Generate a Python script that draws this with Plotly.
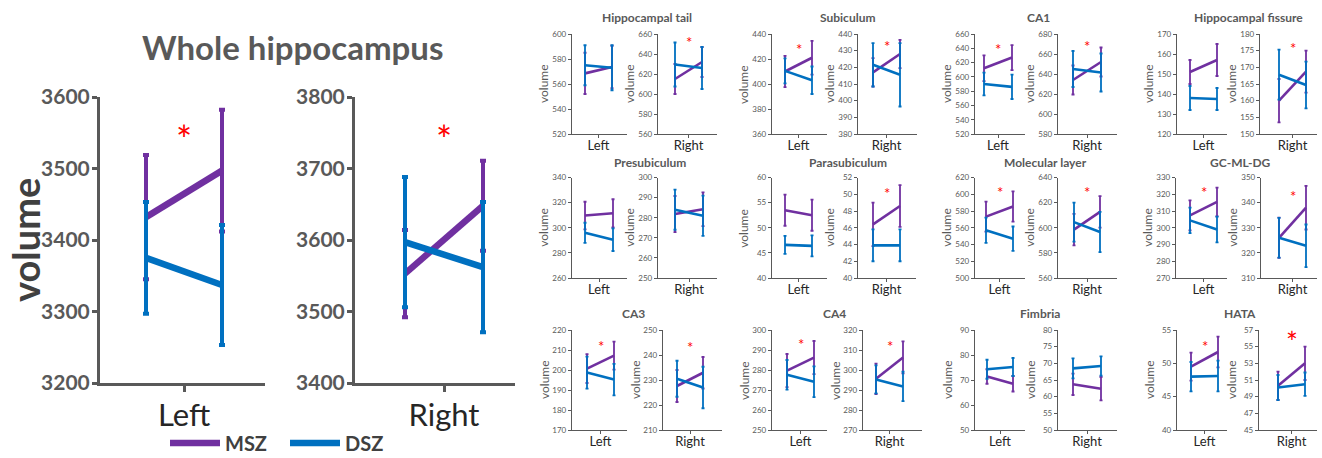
import plotly.graph_objects as go

W, H = 1322, 458
PURPLE = "#7030A0"
BLUE = "#0070C0"
GREY = "#595959"
DARK = "#262626"
FONT = "Lato"

sides = ["Left", "Right"]
timepoints = [1, 2]

# ---- Whole hippocampus (big panels) ----
whole_msz = [[3432, 3497], [3553, 3648]]
whole_msz_sd = [[87, 85], [61, 63]]
whole_dsz = [[3375, 3337], [3597, 3562]]
whole_dsz_sd = [[78, 84], [91, 91]]
whole_yrange = [[3200, 3600], [3400, 3800]]
whole_star_y = [3554, 3754]

# ---- Subfields ----
regions = ["Hippocampal tail", "Subiculum", "CA1", "Hippocampal fissure",
           "Presubiculum", "Parasubiculum", "Molecular layer", "GC-ML-DG",
           "CA3", "CA4", "Fimbria", "HATA"]

msz_left = [[568.5, 573.6], [410, 421], [612, 627], [151, 157],
            [309.7, 311.5], [53.5, 52.5], [573.3, 585.4], [307.4, 315.4],
            [200.7, 207.2], [279.7, 286.2], [71.4, 68.5], [49.5, 51.7]]
msz_left_sd = [[16.5, 17], [12.5, 13.5], [18, 17.5], [6, 8],
               [11, 11.2], [3.1, 3.1], [18, 18], [9, 8.6],
               [7.2, 7], [8.3, 8.3], [2.9, 3.1], [2.1, 2.3]]
dsz_left = [[575, 573], [410.5, 403], [590, 586], [138, 137.5],
            [296, 290.5], [46.6, 46.4], [557, 547], [304.4, 299],
            [198.7, 195.2], [277.6, 274.1], [74.3, 75.2], [48, 48.1]]
dsz_left_sd = [[16, 18], [10, 11], [16, 17], [6, 5.5],
               [8, 9], [1.8, 2.1], [15, 14.5], [7.6, 7.7],
               [8, 7.9], [7.4, 7.7], [3.8, 3.6], [2.2, 2.3]]

msz_right = [[615, 632], [417, 428], [634, 652], [160, 168.7],
             [281.8, 284.2], [46.4, 48.6], [598.5, 612.6], [326, 338],
             [227.6, 232.9], [295.6, 306.3], [63.7, 62.4], [50.3, 53]]
msz_right_sd = [[15, 15], [8.5, 8.5], [14.5, 14.5], [6.5, 6.3],
                [9, 8.4], [2.6, 2.5], [12.5, 12.5], [8, 8.7],
                [6.4, 6.3], [7.6, 8], [3.2, 3.5], [1.7, 2]]
dsz_right = [[629.5, 626], [421.5, 415.5], [645, 641.5], [167.8, 164.7],
             [284, 281], [43.9, 43.9], [604.5, 596.6], [326, 322.8],
             [230.5, 227], [295.3, 291.8], [68.5, 69.2], [50.1, 50.5]]
dsz_right_sd = [[22, 21], [13, 19], [18, 19], [7.5, 7],
                [10, 10], [1.9, 1.9], [15.5, 16], [7.9, 8.5],
                [7.2, 8.3], [7, 7.4], [3, 2.9], [1.5, 1.4]]

left_yrange = [[520, 600], [360, 440], [520, 660], [120, 170],
               [260, 340], [40, 60], [500, 620], [270, 330],
               [170, 220], [250, 300], [50, 90], [40, 55]]
left_dtick = [20, 20, 20, 10, 20, 5, 20, 10, 10, 10, 10, 5]
right_yrange = [[560, 660], [380, 440], [580, 680], [150, 180],
                [250, 300], [40, 52], [560, 640], [310, 350],
                [210, 250], [270, 320], [50, 80], [45, 57]]
right_dtick = [20, 10, 20, 5, 10, 2, 20, 10, 10, 10, 5, 2]

# significance stars (y value, None = no star)
left_star_y = [None, 431.2, 644.6, None, None, None, 607.5, 323.4,
               214, 294.7, None, 53.1]
right_star_y = [655.6, 434.8, 671.3, 177, None, 50.6, 631.2, 344.3,
                244.7, 313.7, None, 56.4]

# ---- geometry (pixels) ----
row_y = [[34, 134], [177.5, 278], [330, 430]]
# (axis_x, point1_x, point2_x, end_x)
geom_left = [(572, 585, 612, 627), (772, 785, 812, 827), (975, 984, 1012, 1025), (1177, 1190, 1217, 1227),
             (572, 585, 613, 627), (772, 785, 812, 827), (975, 986, 1013, 1025), (1176, 1190, 1217, 1227),
             (572, 587, 614, 627), (772, 787, 814, 827), (975, 987, 1013, 1025), (1177, 1191, 1218, 1227)]
geom_right = [(658, 675, 702, 717), (858, 873, 900, 917), (1058, 1073, 1101, 1117), (1260, 1279, 1306, 1317),
              (658, 675, 703, 717), (858, 873, 900, 916), (1058, 1074, 1100, 1117), (1261, 1279, 1306, 1317),
              (663, 677, 703, 722), (863, 876, 903, 922), (1058, 1073, 1101, 1117), (1259, 1278, 1305, 1317)]
title_pos = [(647, 17), (847, 17), (1038, 17), (1248, 18),
             (650, 162), (848, 162), (1045, 162), (1240, 162),
             (633, 313), (835, 313), (1040, 313), (1240, 313)]

fig = go.Figure()
layout = {}
annotations = []
counter = [0]


def add_panel(g, yr, dtick, label, series, y_dom, big=False, star_y=None, star_size=15, legend=False):
    counter[0] += 1
    k = counter[0]
    ax, p1, p2, end = g
    scale = p2 - p1
    x0 = 1 - (p1 - ax) / scale
    x1 = x0 + (end - ax) / scale
    lw = 6.5 if big else 2.6
    et = 4 if big else 1.8
    ew = 3 if big else 1.5
    for name, color, mean, sd in series:
        fig.add_trace(go.Scatter(
            x=timepoints, y=mean, mode="lines", name=name,
            line=dict(color=color, width=lw),
            error_y=dict(type="data", array=sd, color=color, thickness=et, width=ew),
            xaxis=f"x{k}", yaxis=f"y{k}", showlegend=legend, hoverinfo="skip"))
    axline = 3 if big else 1.4
    layout[f"xaxis{k}"] = dict(
        domain=[ax / W, end / W], range=[x0, x1], anchor=f"y{k}",
        showline=True, linecolor=GREY, linewidth=axline, showgrid=False, zeroline=False,
        tickvals=[1.5], ticktext=[label], ticks="outside", ticklen=6 if big else 3,
        tickcolor=GREY, tickwidth=axline, ticklabelstandoff=-3 if big else -4,
        tickfont=dict(family=FONT, size=31 if big else 13, color=DARK), fixedrange=True)
    layout[f"yaxis{k}"] = dict(
        domain=[1 - y_dom[1] / H, 1 - y_dom[0] / H], range=yr, dtick=dtick, tick0=yr[0],
        anchor=f"x{k}", showline=True, linecolor=GREY, linewidth=axline, showgrid=False,
        zeroline=False, ticks="outside", ticklen=5 if big else 3, tickcolor=GREY, tickwidth=axline,
        ticklabelstandoff=-2 if big else 0,
        tickfont=dict(family=FONT, size=21 if big else 8, color=GREY, weight="bold" if big else "normal"),
        fixedrange=True)
    if star_y is not None:
        annotations.append(dict(x=1.5, y=star_y, xref=f"x{k}", yref=f"y{k}", text="*",
                                xanchor="center", yanchor="middle",
                                showarrow=False, font=dict(family=FONT, size=star_size, color="red"),
                                yshift=-0.25 * star_size))
    if not big:
        annotations.append(dict(x=(ax - 28) / W, y=1 - (y_dom[0] + y_dom[1]) / 2 / H,
                                xref="paper", yref="paper", text="volume", textangle=-90,
                                xanchor="center", yanchor="middle",
                                showarrow=False, font=dict(family=FONT, size=12, color=GREY)))


def paper_text(x, y, text, font, angle=0):
    annotations.append(dict(x=x / W, y=1 - y / H, xref="paper", yref="paper", text=text,
                            xanchor="center", yanchor="middle", textangle=angle,
                            showarrow=False, font=font))


# big panels
big_geom = [(100, 146, 222, 265), (355, 405, 483, 515)]
for i in range(2):
    add_panel(big_geom[i], whole_yrange[i], 100, sides[i],
              [("MSZ", PURPLE, whole_msz[i], whole_msz_sd[i]),
               ("DSZ", BLUE, whole_dsz[i], whole_dsz_sd[i])],
              [97, 383], big=True, star_y=whole_star_y[i], star_size=38, legend=(i == 0))

paper_text(292, 47, "Whole hippocampus", dict(family=FONT, size=33, color=GREY, weight="bold"))
paper_text(25, 240, "volume", dict(family=FONT, size=38, color="#404040", weight="bold"), angle=-90)

for r in range(12):
    y_dom = row_y[r // 4]
    add_panel(geom_left[r], left_yrange[r], left_dtick[r], "Left",
              [("MSZ", PURPLE, msz_left[r], msz_left_sd[r]),
               ("DSZ", BLUE, dsz_left[r], dsz_left_sd[r])],
              y_dom, star_y=left_star_y[r], star_size=15)
    add_panel(geom_right[r], right_yrange[r], right_dtick[r], "Right",
              [("MSZ", PURPLE, msz_right[r], msz_right_sd[r]),
               ("DSZ", BLUE, dsz_right[r], dsz_right_sd[r])],
              y_dom, star_y=right_star_y[r], star_size=28 if r == 11 else 15)
    tx, ty = title_pos[r]
    paper_text(tx, ty, regions[r], dict(family=FONT, size=12, color=GREY, weight="bold"))

fig.update_layout(
    width=W, height=H, autosize=False,
    margin=dict(l=0, r=0, t=0, b=0, pad=0, autoexpand=False),
    paper_bgcolor="white", plot_bgcolor="white",
    annotations=annotations,
    legend=dict(orientation="h", x=165 / W, y=1 - 443 / H, xanchor="left", yanchor="middle",
                font=dict(family=FONT, size=20, color="#404040", weight="bold"),
                bgcolor="rgba(0,0,0,0)", itemwidth=50,
                entrywidth=55, entrywidthmode="pixels"),
    **layout)

fig.write_html("out.html")
